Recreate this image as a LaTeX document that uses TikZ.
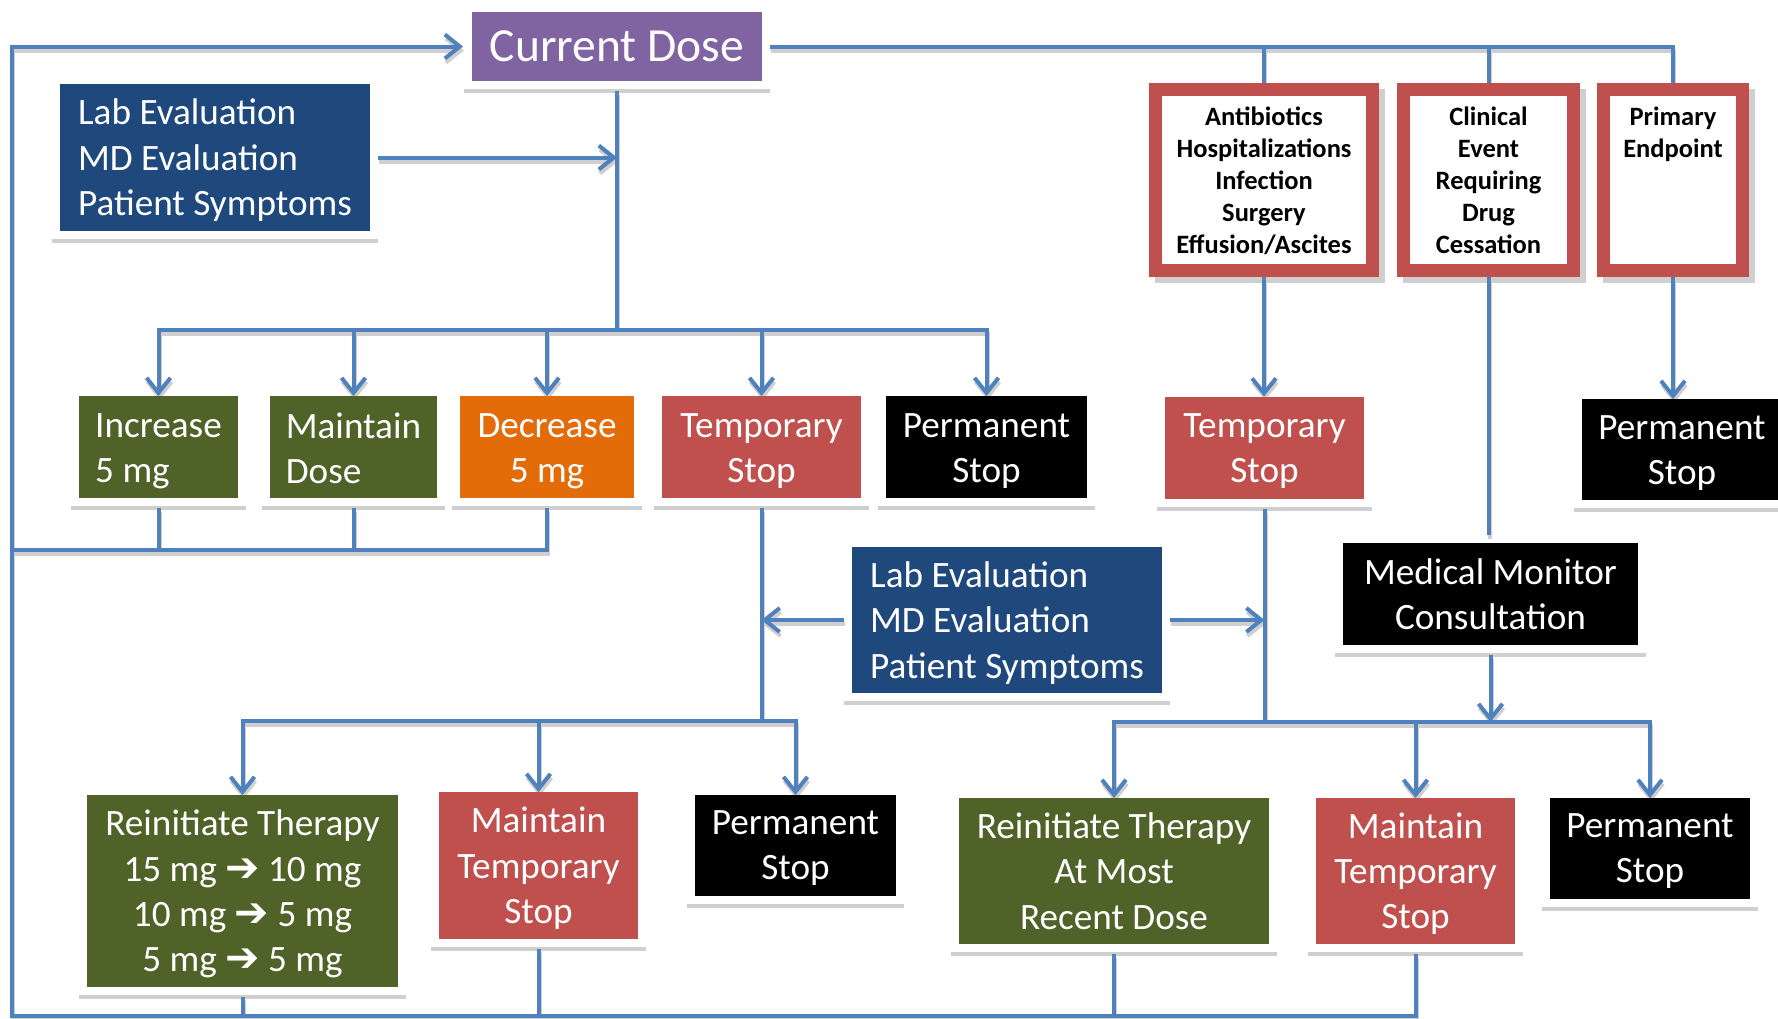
\documentclass[tikz,border=0pt]{standalone}
\usepackage{fontspec}
\setmainfont{Carlito}
\newfontfamily\dvs{DejaVu Sans}
\usetikzlibrary{arrows.meta}
\definecolor{lnblue}{HTML}{4F81BD}
\definecolor{cpurple}{HTML}{8064A2}
\definecolor{cdblue}{HTML}{1F497D}
\definecolor{colive}{HTML}{4F6228}
\definecolor{corange}{HTML}{E36C09}
\definecolor{cred}{HTML}{C0504D}
\definecolor{shgray}{HTML}{CFCFCF}
\pgfdeclarelayer{fr}
\pgfdeclarelayer{sh}
\pgfsetlayers{fr,sh,main}
\newcommand\myar{{\dvs\fontsize{41}{41}\selectfont ➔}}
\newcommand\bst{\rule[-10.3pt]{0pt}{45.3pt}}
\newcommand\sst{\rule[-6pt]{0pt}{32pt}}
\newcommand\cn[2][]{%
  \begin{pgfonlayer}{sh}\draw[lnsh,#1] #2;\end{pgfonlayer}%
  \draw[ln,#1] #2;}
% \bx[options]{name}{position}{text}{text shift down}
\newcommand\bx[5][]{%
  \node[box,#1] (#2) at #3 {};
  \node[txt,#1,fill=none,draw=none] (#2t) at ([yshift=-#5]#2.center) {#4};}
\newcommand\rbx[5][]{%
  \node[rbox,#1] (#2) at #3 {};
  \node[rtxt] (#2t) at ([yshift=-#5]#2.center) {#4};}
\tikzset{
  ln/.style={draw=lnblue,line width=4pt,line join=miter},
  lnsh/.style={draw=shgray,line width=4pt,line join=miter,transform canvas={xshift=1pt,yshift=-4pt}},
  arr/.style={-{Straight Barb[length=15pt,width=24pt]}},
  arrb/.style={{Straight Barb[length=15pt,width=24pt]}-{Straight Barb[length=15pt,width=24pt]}},
  box/.style={rectangle,inner sep=0pt,outer sep=0pt},
  txt/.style={rectangle,inner sep=0pt,outer sep=0pt,text=white,align=center,
    minimum width=0pt,minimum height=0pt,
    font=\fontsize{37.2}{45.3}\selectfont,execute at begin node=\bst,execute at end node=\bst},
  rbox/.style={rectangle,inner sep=0pt,outer sep=6.5pt,draw=cred,line width=13pt,fill=white,
    minimum height=181pt},
  rtxt/.style={rectangle,inner sep=0pt,outer sep=0pt,text=black,align=center,
    font=\fontsize{26.5}{32}\selectfont\bfseries,
    execute at begin node=\sst,execute at end node=\sst},
}
\begin{document}
\begin{tikzpicture}[x=1pt,y=-1pt]
\useasboundingbox (0,0) rectangle (1778,1018);
% nodes
\node[box,fill=cpurple,minimum width=290pt,minimum height=69pt] (cur) at (617,46.5) {};
\node[rectangle,inner sep=0pt,text=white,font=\fontsize{47.5}{56}\selectfont] (curt) at ([yshift=0pt]cur.center) {Current Dose};
\bx[fill=cdblue,align=left,minimum width=310pt,minimum height=147pt]{lab1}{(215,157.5)}{Lab Evaluation\\MD Evaluation\\Patient Symptoms}{5pt}
\bx[fill=colive,align=left,minimum width=159pt,minimum height=102pt]{inc}{(158.5,447)}{Increase\\5 mg}{6pt}
\bx[fill=colive,align=left,minimum width=167pt,minimum height=102pt]{mnt}{(353.5,447)}{Maintain\\Dose}{6pt}
\bx[fill=corange,minimum width=174pt,minimum height=102pt]{dec}{(547,447)}{Decrease\\5 mg}{6pt}
\bx[fill=cred,minimum width=199pt,minimum height=102pt]{tmp1}{(761.5,447)}{Temporary\\Stop}{6pt}
\bx[fill=black,minimum width=201pt,minimum height=102pt]{perm1}{(986.5,447)}{Permanent\\Stop}{6pt}
\rbx[minimum width=217pt]{ab}{(1264,180)}{Antibiotics\\Hospitalizations\\Infection\\Surgery\\Effusion/Ascites}{3.5pt}
\rbx[minimum width=170pt]{clin}{(1488.5,180)}{Clinical\\Event\\Requiring\\Drug\\Cessation}{3.5pt}
\rbx[minimum width=139pt]{prim}{(1673,180)}{Primary\\Endpoint\\\sst\\\sst\\}{3.5pt}
\bx[fill=cred,minimum width=199pt,minimum height=102pt]{tmp2}{(1264.5,447.5)}{Temporary\\Stop}{6pt}
\bx[fill=black,minimum width=200pt,minimum height=101pt]{perm2}{(1682,449.5)}{Permanent\\Stop}{6pt}
\bx[fill=cdblue,align=left,minimum width=310pt,minimum height=146pt]{lab2}{(1007,620)}{Lab Evaluation\\MD Evaluation\\Patient Symptoms}{5pt}
\bx[fill=black,minimum width=295pt,minimum height=102pt]{mm}{(1490.5,594)}{Medical Monitor\\Consultation}{5pt}
\bx[fill=colive,minimum width=311pt,minimum height=192pt]{re1}{(242.5,891)}{Reinitiate Therapy\\15 mg \myar\ 10 mg\\10 mg \myar\ 5 mg\\5 mg \myar\ 5 mg}{5pt}
\bx[fill=cred,minimum width=199pt,minimum height=147pt]{mt1}{(538.5,865.5)}{Maintain\\Temporary\\Stop}{5pt}
\bx[fill=black,minimum width=201pt,minimum height=101pt]{perm3}{(795.5,845.5)}{Permanent\\Stop}{5pt}
\bx[fill=colive,minimum width=310pt,minimum height=146pt]{re2}{(1114,871)}{Reinitiate Therapy\\At Most\\Recent Dose}{5pt}
\bx[fill=cred,minimum width=199pt,minimum height=146pt]{mt2}{(1415.5,871)}{Maintain\\Temporary\\Stop}{5pt}
\bx[fill=black,minimum width=200pt,minimum height=101pt]{perm4}{(1650,848.5)}{Permanent\\Stop}{5pt}
% frames and shadows
\begin{pgfonlayer}{fr}
\foreach \n in {cur,lab1,inc,mnt,dec,tmp1,perm1,tmp2,perm2,lab2,mm,re1,mt1,perm3,re2,mt2,perm4}{
  \fill[shgray] ([xshift=-8pt,yshift=-12pt]\n.south west) rectangle ([xshift=8pt]\n.north east);
  \fill[white] ([xshift=-8pt,yshift=-8pt]\n.south west) rectangle ([xshift=8pt,yshift=4pt]\n.north east);
}
\foreach \n in {ab,clin,prim}{
  \fill[shgray] ([xshift=6pt,yshift=-6pt]\n.south west) rectangle ([xshift=6pt,yshift=-6pt]\n.north east);
}
\end{pgfonlayer}
% coordinates
\coordinate (TL) at (11.5,46.5);
\coordinate (BL) at (11.5,1016);
\coordinate (L2) at (11.5,550);
\coordinate (B1) at (0,330);
\coordinate (B3) at (0,721);
\coordinate (B4) at (0,722);
\coordinate (mmt) at ([yshift=8pt]mm.north);
% connectors
\cn[arr]{([yshift=-10pt]mt2.south) -- (mt2.south |- BL) -- (BL) -- (TL) -- ([xshift=-9pt]cur.west)}
\cn{([yshift=-10pt]re2.south) -- (re2.south |- BL)}
\cn{([yshift=-10pt]re1.south) -- (re1.south |- BL)}
\cn{([yshift=-10pt]mt1.south) -- (mt1.south |- BL)}
\cn{([yshift=-10pt]inc.south) -- (inc.south |- L2)}
\cn{([yshift=-10pt]mnt.south) -- (mnt.south |- L2)}
\cn{([yshift=-10pt]dec.south) -- (dec.south |- L2) -- (L2)}
\cn{([yshift=-10pt]cur.south) -- (cur.south |- B1)}
\cn[arr]{([xshift=8pt]lab1.east) -- (lab1.east -| cur.south)}
\cn[arrb]{(inc.north) -- (inc.north |- B1) -- (perm1.north |- B1) -- (perm1.north)}
\cn[arr]{(mnt.north |- B1) -- (mnt.north)}
\cn[arr]{(dec.north |- B1) -- (dec.north)}
\cn[arr]{(tmp1.north |- B1) -- (tmp1.north)}
\cn{([xshift=8pt]cur.east) -- (prim.north |- cur.east) -- (prim.north)}
\cn{(ab.north |- cur.east) -- (ab.north)}
\cn{(clin.north |- cur.east) -- (clin.north)}
\cn[arr]{(ab.south) -- (ab.south |- tmp2.north)}
\cn[arr]{(prim.south) -- (prim.south |- perm2.north)}
\cn{(clin.south) -- (clin.south |- mmt)}
\cn{([yshift=-10pt]tmp1.south) -- (tmp1.south |- B3)}
\cn[arrb]{(re1.north) -- (re1.north |- B3) -- (perm3.north |- B3) -- (perm3.north)}
\cn[arr]{(mt1.north |- B3) -- (mt1.north)}
\cn[arr]{([xshift=-8pt]lab2.west) -- (lab2.west -| tmp1.south)}
\cn[arr]{([xshift=8pt]lab2.east) -- (lab2.east -| tmp2.south)}
\cn{([yshift=-10pt]tmp2.south) -- (tmp2.south |- B4)}
\cn[arrb]{(re2.north) -- (re2.north |- B4) -- (perm4.north |- B4) -- (perm4.north)}
\cn[arr]{(mt2.north |- B4) -- (mt2.north)}
\cn[arr]{([yshift=-10pt]mm.south) -- (mm.south |- B4)}
\end{tikzpicture}
\end{document}
